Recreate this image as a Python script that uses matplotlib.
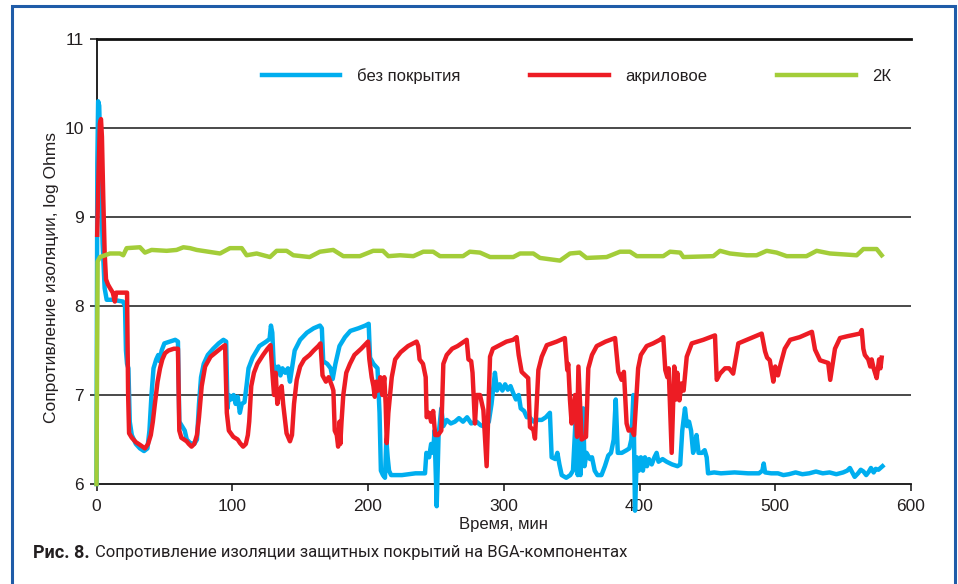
import matplotlib
matplotlib.use('Agg')
import matplotlib.pyplot as plt
from matplotlib.patches import Rectangle

# данные (время, мин; log Ohms)
t_bare = [0, 0.6, 1.2, 2.0, 3.0, 4.5, 6.0, 7.5, 12, 16, 19.5, 21, 21.7, 22.5, 23.5, 24.5, 26, 29, 32, 35,
          37.5, 39, 40.5, 42, 44, 45.5, 46.5, 48, 50, 54, 58, 60, 61, 63, 65, 66.5, 69, 72, 74, 75.5,
          77, 79, 82, 86, 90, 93.5, 95.5, 96.5, 97.5, 99, 101, 102.5, 104, 105.6, 107, 109, 110.5, 112, 115, 120,
          125, 127.5, 128.5, 129.5, 130.5, 132, 134, 135.5, 137, 139, 141, 142.5, 144, 146, 150, 155, 160, 164.6, 166, 167,
          170, 172.5, 174, 176, 179, 183, 187, 193, 198, 200.5, 201.5, 204, 207, 208.5, 209.5, 211, 212.5, 213.5, 214.5, 215.5,
          217, 225, 235, 242, 243, 245, 246.5, 248, 249, 250.6, 252, 254, 255.5, 258, 261, 264, 267, 270, 273, 276,
          280, 283, 286.5, 289, 291, 293.5, 295, 297, 299, 301, 303, 305, 307, 309, 311, 312.5, 315, 317, 319, 322,
          325, 328, 331, 334, 335.3, 338, 339.5, 341, 342.7, 346, 349, 351, 352.5, 353.7, 354.5, 355.5, 356.5, 357.5, 358.5, 359.5,
          361, 363.5, 365, 367, 369, 372, 374.5, 377, 379, 381, 382.5, 384, 387, 390.5, 392.5, 394, 395.5, 396.7, 398, 399.5,
          401, 402.5, 404, 405.5, 407, 409, 411, 412.6, 414, 417, 420, 424, 428, 430, 431.5, 433.5, 435, 436.5, 438, 439.5,
          441, 442, 443.5, 446, 448, 449.5, 450.5, 455, 460, 470, 480, 488, 490.5, 491.5, 492.5, 497, 502, 506, 510, 515,
          520, 525, 530, 535, 540, 545, 550, 553, 555, 558.5, 561, 563, 565, 567, 569, 570.5, 572.5, 574, 576, 579]
v_bare = [6.0, 9.6, 10.3, 10.25, 9.6, 8.7, 8.2, 8.07, 8.07, 8.06, 8.05, 8.0, 7.5, 7.35, 7.3, 6.7, 6.55, 6.45, 6.4, 6.37,
          6.4, 6.6, 7.0, 7.3, 7.4, 7.45, 7.38, 7.5, 7.58, 7.6, 7.62, 7.6, 6.7, 6.65, 6.6, 6.5, 6.46, 6.45, 6.5, 6.9,
          7.2, 7.35, 7.45, 7.52, 7.58, 7.62, 7.6, 6.85, 7.0, 6.95, 7.0, 6.9, 6.98, 6.8, 6.9, 6.92, 7.1, 7.3, 7.42, 7.55,
          7.6, 7.63, 7.78, 7.7, 7.35, 7.28, 7.32, 7.22, 7.3, 7.25, 7.3, 7.15, 7.3, 7.5, 7.62, 7.7, 7.75, 7.78, 7.75, 7.38,
          7.35, 7.3, 7.18, 7.35, 7.55, 7.65, 7.72, 7.75, 7.78, 7.8, 7.42, 7.35, 7.3, 6.8, 6.15, 6.1, 6.07, 6.5, 6.3, 6.15,
          6.1, 6.1, 6.12, 6.12, 6.35, 6.3, 6.45, 6.35, 6.6, 5.75, 6.55, 6.85, 6.65, 6.72, 6.68, 6.7, 6.74, 6.7, 6.75, 6.68,
          6.7, 6.66, 6.64, 6.7, 6.9, 7.25, 7.05, 7.12, 7.05, 7.12, 7.06, 7.1, 7.02, 6.95, 7.0, 6.85, 6.82, 6.75, 6.75, 6.7,
          6.72, 6.72, 6.75, 6.8, 6.3, 6.28, 6.35, 6.22, 6.1, 6.07, 6.1, 6.15, 6.6, 7.0, 6.1, 6.6, 6.1, 6.4, 6.85, 6.2,
          6.35, 6.28, 6.3, 6.15, 6.1, 6.1, 6.2, 6.32, 6.35, 6.5, 6.95, 6.35, 6.35, 6.38, 6.4, 6.5, 7.0, 5.7, 6.3, 6.15,
          6.3, 6.15, 6.3, 6.2, 6.28, 6.22, 6.3, 6.35, 6.25, 6.28, 6.25, 6.22, 6.2, 6.22, 6.6, 6.85, 6.65, 6.7, 6.6, 6.35,
          6.45, 6.55, 6.35, 6.35, 6.38, 6.3, 6.12, 6.13, 6.12, 6.13, 6.12, 6.12, 6.15, 6.23, 6.13, 6.12, 6.12, 6.1, 6.11, 6.13,
          6.11, 6.12, 6.14, 6.12, 6.13, 6.11, 6.13, 6.15, 6.18, 6.08, 6.12, 6.16, 6.14, 6.1, 6.14, 6.18, 6.13, 6.17, 6.16, 6.2]

t_acryl = [0.5, 1.5, 2.5, 3.3, 4, 5, 6, 7, 8.5, 10, 12, 13.5, 14.5, 18, 22.5, 23.3, 24, 26, 29, 32,
           35.7, 38, 40, 41.5, 43, 45, 46.8, 48.5, 50.5, 53, 57, 60, 61, 62.5, 66.4, 68, 70, 72, 74, 75.5,
           77.5, 80, 84, 88, 92, 94.7, 96, 97.5, 100.8, 104, 105.7, 108, 110, 111.5, 112.5, 114, 116, 118.5, 122.7, 126,
           128.2, 129.8, 130.8, 132, 133.2, 135, 136.4, 137.5, 140, 142.5, 144, 145.5, 147.5, 150, 153, 157, 160, 163.4, 165, 166.5,
           169, 171, 173.5, 174.5, 175.5, 177, 178, 179, 179.6, 180.5, 181.8, 184, 186.7, 190, 195, 200, 201, 202.7, 204, 205,
           206, 207.5, 209, 210.5, 212, 213, 213.8, 215, 217.5, 220, 224, 229.5, 235.8, 237, 238, 240.5, 242.5, 243.2, 245, 246.5,
           248, 249.5, 251.6, 254, 255.5, 258, 262, 266, 272.7, 274, 276, 277, 278.8, 280, 282.5, 285, 287.4, 289.9, 292, 297,
           302, 306.9, 309.5, 311, 313.2, 316, 318, 319.3, 321.8, 323, 325.5, 328, 331.7, 339, 345, 346.8, 347.5, 348.8, 350, 352.5,
           354, 355, 357.4, 360.6, 362.3, 365, 368.5, 375, 382, 384.4, 386.8, 388.5, 390.5, 392, 394.3, 396, 399, 401, 405.3, 410,
           415, 417.5, 419, 420.5, 421.5, 423.7, 425.6, 427, 427.8, 429.4, 431, 432.5, 434.8, 438.5, 447, 455.6, 456.9, 459.3, 463, 466,
           469, 472.8, 479, 490, 492.5, 494, 496, 498.6, 500, 502, 504, 507, 511, 518, 527, 529.3, 533, 539, 540.5, 544,
           547.7, 553, 562.4, 563.7, 564.9, 566, 568.5, 570, 571, 572.5, 574.7, 576.5, 577.5, 578.4]
v_acryl = [8.8, 9.5, 10.05, 10.1, 9.9, 9.2, 8.6, 8.3, 8.24, 8.2, 8.15, 8.05, 8.15, 8.15, 8.15, 7.0, 6.57, 6.52, 6.47, 6.44,
           6.4, 6.45, 6.55, 6.7, 6.9, 7.15, 7.3, 7.4, 7.47, 7.5, 7.52, 7.52, 6.6, 6.52, 6.48, 6.45, 6.42, 6.45, 6.55, 6.75,
           7.1, 7.32, 7.43, 7.48, 7.53, 7.56, 6.8, 6.6, 6.53, 6.5, 6.46, 6.42, 6.45, 6.55, 6.7, 7.1, 7.25, 7.35, 7.45, 7.52,
           7.56, 7.2, 7.0, 7.25, 6.9, 7.05, 7.1, 6.9, 6.57, 6.48, 6.55, 6.9, 7.17, 7.32, 7.4, 7.45, 7.5, 7.55, 7.58, 7.22,
           7.15, 7.2, 7.1, 7.05, 6.6, 6.55, 6.42, 6.7, 6.45, 6.7, 7.0, 7.25, 7.35, 7.45, 7.52, 7.6, 7.4, 7.2, 7.1, 6.98,
           7.15, 7.05, 7.2, 7.0, 7.2, 6.9, 6.46, 6.8, 7.2, 7.4, 7.48, 7.55, 7.6, 7.55, 7.4, 7.35, 7.2, 6.75, 6.8, 6.7,
           6.82, 6.55, 6.55, 6.6, 7.35, 7.45, 7.52, 7.55, 7.62, 7.4, 7.38, 7.25, 6.68, 7.0, 7.0, 6.83, 6.2, 7.43, 7.52, 7.56,
           7.6, 7.62, 7.65, 7.45, 7.26, 7.22, 7.19, 6.64, 6.61, 6.51, 7.28, 7.43, 7.56, 7.6, 7.64, 7.28, 7.35, 6.94, 6.68, 7.0,
           6.53, 7.32, 6.5, 6.53, 7.3, 7.45, 7.55, 7.6, 7.64, 7.26, 7.17, 7.26, 6.68, 6.6, 6.61, 6.55, 7.3, 7.45, 7.55, 7.58,
           7.62, 7.65, 7.28, 7.2, 7.3, 6.35, 7.32, 6.95, 7.25, 6.94, 7.13, 7.05, 7.43, 7.58, 7.62, 7.67, 7.17, 7.24, 7.3, 7.3,
           7.24, 7.58, 7.62, 7.69, 7.49, 7.42, 7.39, 7.15, 7.32, 7.22, 7.35, 7.52, 7.62, 7.65, 7.71, 7.51, 7.39, 7.36, 7.17, 7.52,
           7.64, 7.66, 7.69, 7.73, 7.52, 7.45, 7.4, 7.32, 7.4, 7.3, 7.19, 7.4, 7.3, 7.42]

t_2k = [0, 0.8, 2.6, 9.9, 17.3, 19.7, 22.2, 32, 35.7, 40.6, 51.7, 59, 64, 68.9, 73.8, 91, 98.3, 107, 110.6, 118,
        127.8, 132.7, 140.1, 145, 157, 164.6, 174.4, 181.8, 194, 203.8, 211, 215, 223.6, 233.4, 240.7, 248, 253, 262.8, 270, 275,
        282.5, 289.9, 307, 312, 321.8, 326.7, 341.4, 348.8, 356, 361, 375.8, 385.6, 393, 398, 417.5, 422.5, 430, 432.3, 454.4, 459.3,
        466.6, 479, 486.3, 493.7, 501, 508.4, 523, 530.5, 540.3, 560, 564.9, 574.7, 578.4]
v_2k = [6.0, 8.5, 8.55, 8.59, 8.59, 8.57, 8.65, 8.66, 8.6, 8.63, 8.62, 8.63, 8.66, 8.65, 8.63, 8.59, 8.65, 8.65, 8.57, 8.59,
        8.55, 8.62, 8.62, 8.57, 8.55, 8.61, 8.63, 8.56, 8.56, 8.62, 8.62, 8.56, 8.57, 8.56, 8.61, 8.61, 8.56, 8.56, 8.56, 8.61,
        8.6, 8.55, 8.55, 8.59, 8.59, 8.54, 8.51, 8.59, 8.6, 8.54, 8.55, 8.61, 8.61, 8.56, 8.56, 8.61, 8.6, 8.55, 8.56, 8.62,
        8.59, 8.57, 8.57, 8.62, 8.6, 8.56, 8.56, 8.62, 8.59, 8.57, 8.64, 8.64, 8.57]

labels = ['без покрытия', 'акриловое', '2К']
colors = ['#00aeef', '#ed1c24', '#a3cd39']
x_ticks = [0, 100, 200, 300, 400, 500, 600]
y_ticks = [6, 7, 8, 9, 10, 11]

plt.rcParams['font.family'] = ['Liberation Sans', 'DejaVu Sans']

W, H = 958, 584
fig = plt.figure(figsize=(W / 100, H / 100), dpi=100)
ax = fig.add_axes([96.5 / W, 1 - 484 / H, (911 - 96.5) / W, (484 - 39) / H])

lw = 3.2
lines = []
for t, v, c, lab in [(t_bare, v_bare, colors[0], labels[0]),
                     (t_acryl, v_acryl, colors[1], labels[1]),
                     (t_2k, v_2k, colors[2], labels[2])]:
    l, = ax.plot(t, v, color=c, lw=lw, label=lab, clip_on=False, solid_joinstyle='round', zorder=3)
    lines.append(l)

ax.set_xlim(0, 600)
ax.set_ylim(6, 11)
ax.set_xticks(x_ticks)
ax.set_yticks(y_ticks)
for y in y_ticks[1:-1]:
    ax.axhline(y, color='#3c3c3c', lw=1.3, zorder=1)

for s in ['left', 'bottom', 'top']:
    ax.spines[s].set_color('#111111')
ax.spines['left'].set_linewidth(1.3)
ax.spines['bottom'].set_linewidth(1.3)
ax.spines['top'].set_linewidth(2.0)
ax.spines['right'].set_visible(False)
ax.tick_params(axis='both', direction='out', length=5, width=1.1, color='#111111',
               labelsize=12.5, labelcolor='#231f20', pad=6)
ax.tick_params(axis='y', pad=4)

ax.set_xlabel('Время, мин', fontsize=12, color='#231f20', labelpad=2)
fig.text(52 / W, 1 - 277 / H, 'Сопротивление изоляции, log Ohms', rotation=90,
         ha='center', va='center', fontsize=12.5, color='#231f20')

ax.legend(handles=lines, loc='center left', bbox_to_anchor=(262 / W, 1 - 76 / H),
          bbox_transform=fig.transFigure, ncol=3, frameon=False, fontsize=12,
          handlelength=4.7, handletextpad=1.0, columnspacing=4.2,
          borderpad=0, borderaxespad=0, labelcolor='#231f20')

# рамка вокруг рисунка
fig.patches.append(Rectangle((12 / W, -0.1), (955 - 12) / W, 1.1 - 6 / H, transform=fig.transFigure,
                             fill=False, edgecolor='#1f5ca8', lw=2.2))

# подпись
fig.canvas.draw()
r = fig.canvas.get_renderer()
cap_y = 1 - 553 / H
t1 = fig.text(33 / W, cap_y, 'Рис. 8.', fontsize=13, fontweight='bold', family='Roboto',
              ha='left', va='center', color='#231f20')
bb = t1.get_window_extent(r)
fig.text((bb.x1 + 5) / W, cap_y, 'Сопротивление изоляции защитных покрытий на BGA-компонентах',
         fontsize=12, family='Roboto', ha='left', va='center', color='#231f20')

fig.savefig('out.png', dpi=100)
